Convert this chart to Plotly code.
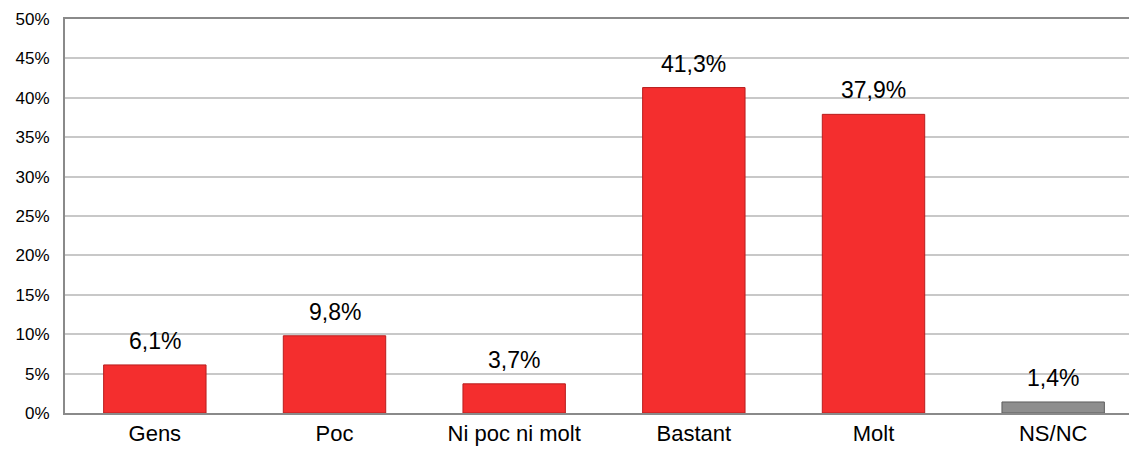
import plotly.graph_objects as go

categories = ["Gens", "Poc", "Ni poc ni molt", "Bastant", "Molt", "NS/NC"]
values = [6.1, 9.8, 3.7, 41.3, 37.9, 1.4]
bar_colors = ["#F42E2E", "#F42E2E", "#F42E2E", "#F42E2E", "#F42E2E", "#8E8E8E"]
edge_colors = ["#B81E1E", "#B81E1E", "#B81E1E", "#B81E1E", "#B81E1E", "#5E5E5E"]
y_ticks = [0, 5, 10, 15, 20, 25, 30, 35, 40, 45, 50]

labels = [f"{v:.1f}".replace(".", ",") + "%" for v in values]
font = "Liberation Sans, Arial, sans-serif"

fig = go.Figure()
fig.add_trace(go.Bar(
    x=list(range(len(categories))),
    y=values,
    width=0.57,
    marker=dict(color=bar_colors, line=dict(color=edge_colors, width=1)),
    hoverinfo="skip",
))

for i, (v, t) in enumerate(zip(values, labels)):
    fig.add_annotation(x=i, y=v, text=t, showarrow=False, xref="x", yref="y",
                       yanchor="middle", yshift=24,
                       font=dict(family=font, size=23, color="#000000"))

fig.update_layout(
    width=1137, height=452,
    margin=dict(l=57, r=2, t=8, b=47),
    paper_bgcolor="white", plot_bgcolor="white",
    showlegend=False,
)
fig.update_xaxes(
    tickmode="array", tickvals=list(range(len(categories))), ticktext=categories,
    range=[-0.5, 5.5],
    showline=True, linecolor="#8A8A8A", linewidth=2, mirror=True,
    showgrid=False, ticks="",
    tickfont=dict(family=font, size=22, color="#000000"),
)
fig.update_yaxes(
    range=[0, 50], tickvals=y_ticks, ticktext=[f"{t}%" for t in y_ticks],
    showline=True, linecolor="#8A8A8A", linewidth=2,
    showgrid=True, gridcolor="#C8C8C8", gridwidth=2,
    zeroline=False, ticks="", ticklabelstandoff=10,
    ticklabeloverflow="allow",
    tickfont=dict(family=font, size=17, color="#000000"),
)

fig.write_html("out.html")
